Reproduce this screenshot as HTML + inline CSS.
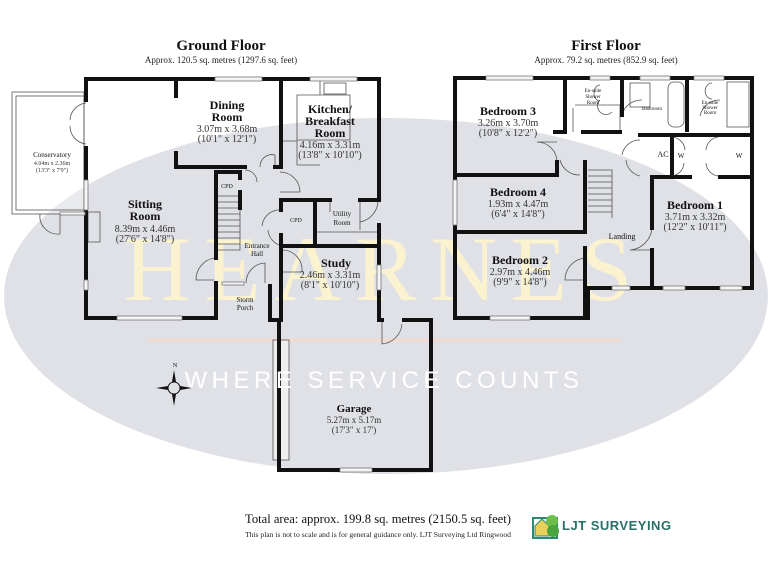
<!DOCTYPE html>
<html><head><meta charset="utf-8"><style>
html,body{margin:0;padding:0;background:#fff}
svg{display:block}
text{font-family:"Liberation Serif",serif}
</style></head><body>
<svg width="768" height="576" viewBox="0 0 768 576" xmlns="http://www.w3.org/2000/svg">
<rect width="768" height="576" fill="#fff"/>
<ellipse cx="386" cy="296" rx="382" ry="178" fill="#dfe1e6"/>
<!-- watermark -->
<text x="385" y="300" font-size="92" fill="#fbf3cf" text-anchor="middle" letter-spacing="14">HEARNES</text>
<line x1="147" y1="340" x2="620" y2="340" stroke="#f3d9d2" stroke-width="3"/>

<!-- Titles -->
<text x="221" y="50" font-size="15" font-weight="bold" text-anchor="middle" fill="#111">Ground Floor</text>
<text x="221" y="63" font-size="9" text-anchor="middle" fill="#222">Approx. 120.5 sq. metres (1297.6 sq. feet)</text>
<text x="606" y="50" font-size="15" font-weight="bold" text-anchor="middle" fill="#111">First Floor</text>
<text x="606" y="63" font-size="9" text-anchor="middle" fill="#222">Approx. 79.2 sq. metres (852.9 sq. feet)</text>

<g fill="none" stroke="#555" stroke-width="0.8">
<rect x="12" y="92" width="72" height="122" fill="#fff" fill-opacity="0.3"/>
<rect x="16" y="96" width="68" height="114"/>
<path d="M86 103 A18 18 0 0 0 70 120 M86 144 A18 18 0 0 1 70 126"/>
<path d="M40 214 A18 18 0 0 0 60 234 L60 214"/>
<path d="M214 258 A22 22 0 0 0 196 280 L214 280"/>
<path d="M245 170 A12 12 0 0 1 257 182 M260 167 A12 12 0 0 1 275 155 L275 168"/>
<path d="M280 172 A20 20 0 0 1 300 192 L280 192"/>
<path d="M282 210 A18 18 0 0 0 262 226 M282 246 A18 18 0 0 1 268 230"/>
<path d="M282 250 A20 20 0 0 1 302 272 L282 272"/>
<path d="M378 200 A22 22 0 0 1 360 222"/>
<path d="M246 283 A20 20 0 0 1 265 263 L265 283"/>
<path d="M382 320 V344 A22 22 0 0 0 402 324"/>
<path d="M216 196 H240 V250 H216 M216 202 H240 M216 208 H240 M216 214 H240 M216 220 H240 M216 226 H240 M216 232 H240 M216 238 H240 M216 244 H240"/>
<path d="M297 95 H350 V140 H297 Z M320 95 V79 M282 141 H297 V165 H320"/>
<path d="M330 200 V212 M360 200 V230 M315 232 H378"/>
<rect x="324" y="83" width="22" height="11"/>
<rect x="273" y="340" width="16" height="120" fill="#eee"/>
<rect x="88" y="212" width="12" height="30"/>
<path d="M573 132 V108 M575 105 H620 V130 M612 112 A8 8 0 0 1 600 100"/>
<rect x="630" y="83" width="20" height="24"/>
<rect x="668" y="82" width="16" height="45" rx="6"/>
<rect x="727" y="82" width="22" height="45"/>
<path d="M600 85 A6 8 0 0 0 600 101 M712 83 A6 7 0 0 0 712 99"/>
<path d="M557 162 A20 20 0 0 0 537 142 L557 142"/>
<path d="M560 160 A20 20 0 0 0 580 175"/>
<path d="M640 140 A18 18 0 0 0 622 155 M640 176 A18 18 0 0 1 626 160"/>
<path d="M672 137 A14 14 0 0 1 685 150 M672 176 A14 14 0 0 0 684 163"/>
<path d="M718 137 A14 14 0 0 0 706 150 M718 176 A14 14 0 0 1 706 163"/>
<path d="M652 228 A24 24 0 0 1 630 250 L652 250"/>
<path d="M585 258 A22 22 0 0 0 565 280 L585 280"/>
<path d="M642 100 A20 20 0 0 0 622 115"/>
<path d="M720 100 A20 20 0 0 0 700 116"/>
<path d="M588 170 H612 V218 M588 176 H612 M588 182 H612 M588 188 H612 M588 194 H612 M588 200 H612 M588 206 H612 M588 212 H612"/>
</g>

<g stroke="#111" stroke-width="4" fill="none" stroke-linecap="square">
<path d="M86 79 H379 V200"/>
<path d="M379 225 V320"/>
<path d="M86 79 V100 M86 148 V318 H216 V283"/>
<path d="M216 258 V172 H240 V178 M240 192 V208"/>
<path d="M176 79 V96 M176 153 V167 H245"/>
<path d="M275 167 H281 V79"/>
<path d="M281 200 H330 M360 200 H379"/>
<path d="M281 200 V210 M281 235 V320 H270 V286 M281 246 H379"/>
<path d="M315 200 V246"/>
<path d="M379 320 H382 M404 320 H431 V470 H279 V320 H281"/>
<path d="M455 78 H752 V288 H588 V318 H455 Z"/>
<path d="M455 175 H557 V162"/>
<path d="M565 78 V132 H555 M583 132 H620 M622 78 V115"/>
<path d="M687 78 V130"/>
<path d="M640 135 H752"/>
<path d="M672 135 V176 M652 178 V228 M652 250 V287 M652 177 H690 M720 177 H752"/>
<path d="M455 232 H585 V162 M585 248 V318"/>
</g>

<g fill="#f4f4f4" stroke="#777" stroke-width="0.8">
<rect x="215" y="77" width="47" height="4"/>
<rect x="310" y="77" width="47" height="4"/>
<rect x="84" y="180" width="4" height="30"/>
<rect x="84" y="280" width="4" height="10"/>
<rect x="117" y="316" width="65" height="4"/>
<rect x="222" y="282" width="22" height="3"/>
<rect x="377" y="265" width="4" height="25"/>
<rect x="340" y="468" width="32" height="4"/>
<rect x="60" y="212" width="25" height="3"/>
<rect x="486" y="76" width="47" height="4"/>
<rect x="590" y="76" width="20" height="4"/>
<rect x="640" y="76" width="30" height="4"/>
<rect x="694" y="76" width="30" height="4"/>
<rect x="453" y="180" width="4" height="45"/>
<rect x="490" y="316" width="40" height="4"/>
<rect x="612" y="286" width="18" height="4"/>
<rect x="663" y="286" width="22" height="4"/>
<rect x="720" y="286" width="22" height="4"/>
</g>

<g fill="#111" text-anchor="middle">
<text x="227" y="109" font-size="12" font-weight="bold">Dining</text>
<text x="227" y="121" font-size="12" font-weight="bold">Room</text>
<text x="227" y="132" font-size="10" fill="#333">3.07m x 3.68m</text>
<text x="227" y="142" font-size="10" fill="#333">(10'1" x 12'1")</text>
<text x="330" y="113" font-size="12" font-weight="bold">Kitchen/</text>
<text x="330" y="125" font-size="12" font-weight="bold">Breakfast</text>
<text x="330" y="137" font-size="12" font-weight="bold">Room</text>
<text x="330" y="148" font-size="10" fill="#333">4.16m x 3.31m</text>
<text x="330" y="158" font-size="10" fill="#333">(13'8" x 10'10")</text>
<text x="52" y="157" font-size="7">Conservatory</text>
<text x="52" y="165" font-size="6" fill="#333">4.04m x 2.36m</text>
<text x="52" y="172" font-size="6" fill="#333">(13'3" x 7'9")</text>
<text x="145" y="208" font-size="12" font-weight="bold">Sitting</text>
<text x="145" y="220" font-size="12" font-weight="bold">Room</text>
<text x="145" y="232" font-size="10" fill="#333">8.39m x 4.46m</text>
<text x="145" y="242" font-size="10" fill="#333">(27'6" x 14'8")</text>
<text x="227" y="188" font-size="6">CPD</text>
<text x="296" y="222" font-size="6">CPD</text>
<text x="342" y="216" font-size="7">Utility</text>
<text x="342" y="225" font-size="7">Room</text>
<text x="257" y="248" font-size="7">Entrance</text>
<text x="257" y="256" font-size="7">Hall</text>
<text x="336" y="267" font-size="12" font-weight="bold">Study</text>
<text x="330" y="278" font-size="10" fill="#333">2.46m x 3.31m</text>
<text x="330" y="288" font-size="10" fill="#333">(8'1" x 10'10")</text>
<text x="245" y="302" font-size="7">Storm</text>
<text x="245" y="310" font-size="7">Porch</text>
<text x="354" y="412" font-size="11" font-weight="bold">Garage</text>
<text x="354" y="423" font-size="9" fill="#333">5.27m x 5.17m</text>
<text x="354" y="433" font-size="9" fill="#333">(17'3" x 17')</text>

<text x="508" y="115" font-size="12" font-weight="bold">Bedroom 3</text>
<text x="508" y="126" font-size="10" fill="#333">3.26m x 3.70m</text>
<text x="508" y="136" font-size="10" fill="#333">(10'8" x 12'2")</text>
<text x="593" y="92" font-size="5">En-suite</text>
<text x="593" y="98" font-size="5">Shower</text>
<text x="593" y="104" font-size="5">Room</text>
<text x="652" y="110" font-size="5">Bathroom</text>
<text x="710" y="104" font-size="5">En-suite</text>
<text x="710" y="109" font-size="5">Shower</text>
<text x="710" y="114" font-size="5">Room</text>
<text x="663" y="157" font-size="8">AC</text>
<text x="681" y="158" font-size="7">W</text>
<text x="739" y="158" font-size="7">W</text>
<text x="518" y="196" font-size="12" font-weight="bold">Bedroom 4</text>
<text x="518" y="207" font-size="10" fill="#333">1.93m x 4.47m</text>
<text x="518" y="217" font-size="10" fill="#333">(6'4" x 14'8")</text>
<text x="695" y="209" font-size="12" font-weight="bold">Bedroom 1</text>
<text x="695" y="220" font-size="10" fill="#333">3.71m x 3.32m</text>
<text x="695" y="230" font-size="10" fill="#333">(12'2" x 10'11")</text>
<text x="622" y="239" font-size="8">Landing</text>
<text x="520" y="264" font-size="12" font-weight="bold">Bedroom 2</text>
<text x="520" y="275" font-size="10" fill="#333">2.97m x 4.46m</text>
<text x="520" y="285" font-size="10" fill="#333">(9'9" x 14'8")</text>
</g>

<text x="384" y="388" font-size="24" fill="#fff" text-anchor="middle" letter-spacing="4.5" style="font-family:'Liberation Sans',sans-serif">WHERE SERVICE COUNTS</text>

<g transform="translate(174,388)">
<circle r="6" fill="none" stroke="#111" stroke-width="1"/>
<path d="M0 -18 L2 -6 L-2 -6 Z M0 18 L2 6 L-2 6 Z M-18 0 L-6 -2 L-6 2 Z M18 0 L6 -2 L6 2 Z" fill="#111"/>
<text x="1" y="-21" font-size="6" text-anchor="middle">N</text>
</g>

<text x="245" y="523" font-size="12.6" fill="#111">Total area: approx. 199.8 sq. metres (2150.5 sq. feet)</text>
<text x="245" y="537" font-size="7.6" fill="#222">This plan is not to scale and is for general guidance only. LJT Surveying Ltd Ringwood</text>
<g transform="translate(531,512)">
<rect x="2" y="6" width="24" height="20" fill="none" stroke="#2c8a72" stroke-width="2"/>
<path d="M4 14 L11 7 L18 14 V24 H4 Z" fill="#e8d05a" stroke="#2c8a72"/>
<circle cx="21" cy="9" r="6" fill="#6bbf4a"/>
<circle cx="22" cy="19" r="6" fill="#4aa43e"/>
</g>
<text x="562" y="530" style="font-family:'Liberation Sans',sans-serif" font-size="13" font-weight="bold" fill="#2b6f6a" letter-spacing="0.5">LJT SURVEYING</text>
</svg>
</body></html>
